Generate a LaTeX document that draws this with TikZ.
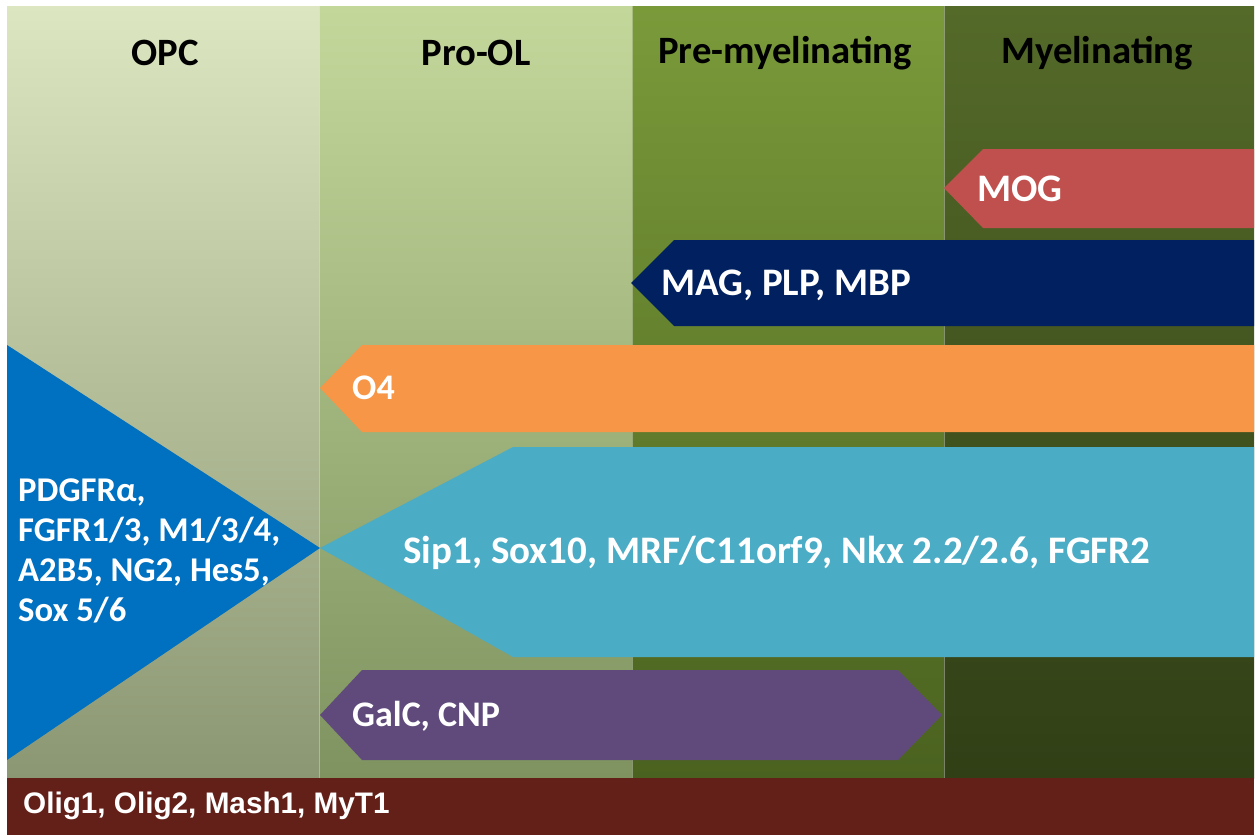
\documentclass[tikz,border=0pt]{standalone}
\usepackage{fontspec}
\setmainfont{Carlito}
\newfontfamily\arialbold{Liberation Sans}[BoldFont={* Bold}]
\definecolor{opcTop}{HTML}{DCE6C1}
\definecolor{opcBot}{HTML}{8B9772}
\definecolor{proTop}{HTML}{C4D79B}
\definecolor{proBot}{HTML}{7E9360}
\definecolor{preTop}{HTML}{7A9A3A}
\definecolor{preBot}{HTML}{4A621F}
\definecolor{myTop}{HTML}{546A29}
\definecolor{myBot}{HTML}{313F16}
\definecolor{mogRed}{HTML}{C0504D}
\definecolor{magNavy}{HTML}{002060}
\definecolor{oOrange}{HTML}{F79646}
\definecolor{sipCyan}{HTML}{4BACC6}
\definecolor{galPurple}{HTML}{604A7B}
\definecolor{opcBlue}{HTML}{0070C0}
\definecolor{oligRed}{HTML}{632019}
\begin{document}
\begin{tikzpicture}[x=1pt,y=-1pt,
  stage/.style={font=\bfseries\fontsize{38.7}{40}\selectfont, text=black, inner sep=0pt},
  marker/.style={font=\bfseries\fontsize{39}{40}\selectfont, text=white, inner sep=0pt, anchor=west},
  smallmarker/.style={marker, font=\bfseries\fontsize{36}{40}\selectfont},
  divider/.style={draw=white, draw opacity=0.35, line width=0.8pt}]
\useasboundingbox (0,0) rectangle (1258,835);
\fill[white] (0,0) rectangle (1258,835);

% stage columns
\shade[top color=opcTop, bottom color=opcBot] (7,6) rectangle (319,778);
\shade[top color=proTop, bottom color=proBot] (319,6) rectangle (632,778);
\shade[top color=preTop, bottom color=preBot] (632,6) rectangle (944,778);
\shade[top color=myTop, bottom color=myBot] (944,6) rectangle (1254,778);
\draw[divider] (319,6) -- (319,778);
\draw[divider] (632,6) -- (632,778);
\draw[divider] (944,6) -- (944,778);

% stage titles
\node[stage] (opc) at (165,53) {OPC};
\node[stage] (prool) at (476,53) {Pro-OL};
\node[stage] (premy) at (785,53) {Pre-myelinating};
\node[stage] (myel) at (1097,53) {Myelinating};

% marker bands
\fill[mogRed] (944,188) -- (983,149) -- (1254,149) -- (1254,228) -- (983,228) -- cycle;
\node[marker] (mog) at (977,189) {MOG};

\fill[magNavy] (631,283) -- (674,240) -- (1254,240) -- (1254,326) -- (674,326) -- cycle;
\node[marker] (mag) at (661,285) {MAG, PLP, MBP};

\fill[oOrange] (320,388) -- (362,345) -- (1254,345) -- (1254,432) -- (362,432) -- cycle;
\node[smallmarker] (o4) at (352,388) {O4};

\fill[opcBlue] (7,345) -- (320,548) -- (7,760) -- cycle;
\node[marker, font=\bfseries\fontsize{34.7}{40}\selectfont, align=left] (opcm) at (18,551)
  {PDGFRα,\\FGFR1/3, M1/3/4,\\A2B5, NG2, Hes5,\\Sox 5/6};

\fill[sipCyan] (320,548) -- (513,447) -- (1254,447) -- (1254,657) -- (513,657) -- cycle;
\node[marker, anchor=center] (sip) at (777,553) {Sip1, Sox10, MRF/C11orf9, Nkx 2.2/2.6, FGFR2};

\fill[galPurple] (320,715) -- (362,670) -- (898,670) -- (942,715) -- (898,760) -- (362,760) -- cycle;
\node[smallmarker] (galc) at (352,716) {GalC, CNP};

% bottom band
\fill[oligRed] (7,778) rectangle (1254,835);
\node[marker, font=\arialbold\bfseries\fontsize{29.7}{34}\selectfont] (olig) at (23,806) {Olig1, Olig2, Mash1, MyT1};
\end{tikzpicture}
\end{document}
